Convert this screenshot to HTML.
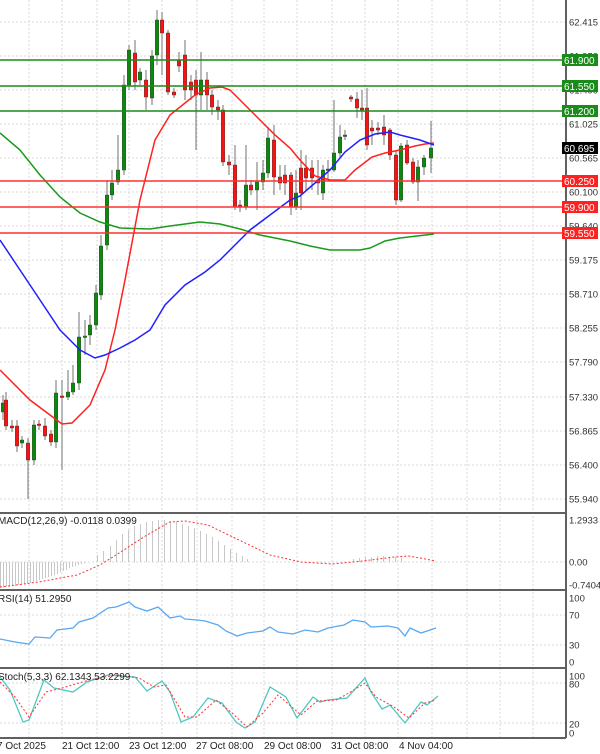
<!DOCTYPE html>
<html><head><meta charset="utf-8"><style>
html,body{margin:0;padding:0;background:#fff}
svg{display:block;font-family:"Liberation Sans",sans-serif}
</style></head><body>
<svg id="s" width="600" height="754" viewBox="0 0 600 754" xmlns="http://www.w3.org/2000/svg">
<rect width="600" height="754" fill="#fff"/>
<g id="grid" stroke="#d8d8d8" stroke-width="1" stroke-dasharray="2,2"></g>
<g id="cand"></g>
<g fill="none" stroke-width="1.5">
<polyline stroke="#1a9a1a" points="0,133 20,150 40,175 60,197 80,213 100,222 120,228 150,229 170,226 200,222 220,224 240,229 260,235 290,241 310,246 330,250 360,250 370,248 385,241 400,238 434,234"/>
<polyline stroke="#ff2020" points="0,370 30,400 50,415 62,424 72,423 90,405 105,370 115,330 125,280 140,200 155,140 170,115 195,95 210,88 222,87 230,90 245,105 260,120 275,135 290,148 300,160 315,176 330,180 345,180 355,170 372,157 385,153 400,150 415,146 425,144 434,143"/>
<polyline stroke="#2020ff" points="0,240 20,270 40,300 60,330 80,350 95,358 105,355 120,348 135,340 150,330 165,305 185,285 205,272 220,260 235,245 250,230 270,215 290,200 300,196 315,183 330,170 345,152 360,140 375,134 390,132 400,135 420,140 434,145"/>
</g>
<g stroke-width="1.5">
<line x1="0" y1="60" x2="565" y2="60" stroke="#1a8a1a"/>
<line x1="0" y1="86" x2="565" y2="86" stroke="#1a8a1a"/>
<line x1="0" y1="111" x2="565" y2="111" stroke="#1a8a1a"/>
<line x1="0" y1="181" x2="565" y2="181" stroke="#ff3030"/>
<line x1="0" y1="207" x2="565" y2="207" stroke="#ff3030"/>
<line x1="0" y1="233" x2="565" y2="233" stroke="#ff3030"/>
</g>
<g id="macd" stroke="#c8c8c8" stroke-width="1"></g>
<polyline fill="none" stroke="#ff3030" stroke-width="1" stroke-dasharray="2,2" points="0,587 39,582 77,575 100,565 116,555 147,535 170,522 185,521 208,525 239,540 270,555 301,562 332,564 363,561 394,557 409,556 436,561"/>
<polyline fill="none" stroke="#5aa8f0" stroke-width="1.3" points="0,639 15,642 29,644 35,637 50,638 57,630 73,628 79,622 93,618 108,608 116,607 129,602 135,607 147,611 158,607 170,618 180,616 185,619 197,620 205,621 218,625 226,631 237,636 247,633 263,631 270,627 278,632 293,634 305,630 318,632 328,628 344,625 353,620 365,622 371,627 388,626 398,628 405,636 410,628 421,633 436,628"/>
<polyline fill="none" stroke="#50c8c0" stroke-width="1.3" points="0,677 10,690 23,722 29,720 44,680 54,688 73,692 87,682 108,675 135,677 147,691 162,681 170,692 181,722 193,717 208,698 222,703 236,722 245,728 255,722 270,687 286,697 297,718 313,697 320,702 328,700 347,698 365,678 371,692 382,709 390,705 405,723 421,702 427,705 438,696"/>
<polyline fill="none" stroke="#ff3030" stroke-width="1" stroke-dasharray="2,2" points="0,682 15,697 29,717 46,692 62,688 89,680 116,675 139,678 154,687 166,685 185,717 197,717 216,700 232,713 247,727 263,713 278,695 301,715 317,701 336,700 349,693 365,683 376,697 394,707 409,718 425,703 436,700"/>
<g stroke="#606060" stroke-width="2" fill="none">
<line x1="0" y1="513" x2="566" y2="513"/>
<line x1="0" y1="590" x2="566" y2="590"/>
<line x1="0" y1="668" x2="566" y2="668"/>
<line x1="0" y1="738" x2="566" y2="738"/>
<line x1="566" y1="0" x2="566" y2="738"/>
</g>
<g id="lab" font-size="9.5" fill="#333"></g>
<g font-size="10" fill="#fff">
<rect x="562" y="54" width="36" height="12" fill="#1a8a1a"/><text x="564" y="64">61.900</text>
<rect x="562" y="80" width="36" height="12" fill="#1a8a1a"/><text x="564" y="90">61.550</text>
<rect x="562" y="105" width="36" height="12" fill="#1a8a1a"/><text x="564" y="115">61.200</text>
<rect x="562" y="142" width="36" height="12" fill="#000"/><text x="564" y="152">60.695</text>
<rect x="562" y="175" width="36" height="12" fill="#ff2020"/><text x="564" y="185">60.250</text>
<rect x="562" y="201" width="36" height="12" fill="#ff2020"/><text x="564" y="211">59.900</text>
<rect x="562" y="227" width="36" height="12" fill="#ff2020"/><text x="564" y="237">59.550</text>
</g>
<g font-size="10" fill="#222">
<text x="-2" y="524">MACD(12,26,9) -0.0118 0.0399</text>
<text x="-2" y="602">RSI(14) 51.2950</text>
<text x="-2" y="680">Stoch(5,3,3) 62.1343 53.2299</text>
<text x="-3" y="749">7 Oct 2025</text>
<text x="62" y="749">21 Oct 12:00</text>
<text x="129" y="749">23 Oct 12:00</text>
<text x="196" y="749">27 Oct 08:00</text>
<text x="264" y="749">29 Oct 08:00</text>
<text x="331" y="749">31 Oct 08:00</text>
<text x="399" y="749">4 Nov 04:00</text>
</g>
</svg>
<script>
var NS="http://www.w3.org/2000/svg";
function el(p,t,a){var e=document.createElementNS(NS,t);for(var k in a)e.setAttribute(k,a[k]);p.appendChild(e);return e;}
var g=document.getElementById('grid');
var gx=[29,62,97,129,162,197,232,264,297,332,365,398,432,467,500,533];
var ys=[[22,'62.415'],[56,'61.950'],[90,'61.490'],[124,'61.025'],[158,'60.565'],[192,'60.100'],[226,'59.640'],[260,'59.175'],[294,'58.710'],[328,'58.255'],[362,'57.790'],[397,'57.330'],[431,'56.865'],[465,'56.400'],[499,'55.940']];
var gy=[22,56,90,124,158,192,226,260,294,328,362,397,431,465,499,562,615,645,683,723];
gx.forEach(function(x){el(g,'line',{x1:x,y1:0,x2:x,y2:738});});
gy.forEach(function(y){el(g,'line',{x1:0,y1:y,x2:565,y2:y});});
var lab=document.getElementById('lab');
ys.forEach(function(a){el(lab,'text',{x:569,y:a[0]+3.5}).textContent=a[1];});
[[520,'1.2933'],[562,'0.00'],[585,'-0.7404'],[598,'100'],[615,'70'],[645,'30'],[662,'0'],[676,'100'],[684,'80'],[724,'20'],[733,'0']].forEach(function(a){el(lab,'text',{x:569,y:a[0]+3.5}).textContent=a[1];});
var C=[[3,412,403,395,420],[6,400,426,392,430],[12,426,428,420,432],[17,426,446,420,452],[22,443,440,436,448],[28,443,460,438,499],[34,460,425,420,465],[39,424,425,420,430],[45,426,436,418,440],[51,434,442,430,446],[56,442,393,380,448],[62,396,397,380,470],[68,397,392,370,400],[73,392,383,365,395],[79,383,337,312,390],[85,337,336,320,355],[90,335,325,315,345],[96,325,293,285,330],[101,295,246,235,300],[107,245,195,180,250],[112,195,183,170,200],[118,182,170,135,185],[124,170,85,75,175],[129,85,50,45,90],[135,53,82,40,90],[140,80,72,68,85],[146,80,97,70,110],[152,98,56,50,105],[157,55,20,10,65],[162,20,33,12,75],[168,33,92,30,95],[174,92,95,88,98],[179,60,66,52,72],[185,55,90,40,100],[191,82,90,75,100],[196,80,95,70,150],[201,95,80,52,110],[207,80,95,72,110],[212,95,107,90,115],[218,107,110,100,120],[223,110,162,105,166],[229,162,165,155,175],[235,165,207,145,210],[240,205,207,200,212],[246,207,185,145,210],[251,185,190,180,195],[257,190,182,162,210],[263,182,173,160,190],[268,173,138,127,178],[274,140,177,125,195],[280,177,183,165,190],[285,175,183,165,195],[291,175,207,172,215],[296,207,193,170,210],[301,168,193,150,210],[306,168,178,155,190],[312,168,178,160,190],[318,180,183,160,195],[323,193,170,165,200],[328,170,169,160,180],[334,170,153,100,172],[340,153,137,125,158],[345,136,135,130,140],[351,97,99,95,102],[357,99,108,92,118],[362,108,110,90,120],[367,108,145,88,150],[372,128,131,120,145],[378,128,130,122,135],[384,127,135,115,145],[390,130,155,128,160],[396,155,200,150,205],[401,200,146,143,202],[407,145,163,140,165],[413,162,182,158,184],[418,182,167,160,201],[424,167,158,155,175],[431,158,148,121,173]];
var cg=document.getElementById('cand');
C.forEach(function(c){var up=c[2]<c[1];el(cg,'line',{x1:c[0],y1:c[3],x2:c[0],y2:c[4],stroke:'#707070','stroke-width':1});
var t=Math.min(c[1],c[2]),h=Math.max(1.5,Math.abs(c[1]-c[2]));
el(cg,'rect',{x:c[0]-1.8,y:t,width:3.6,height:h,fill:up?'#0a8a0a':'#ff1010',stroke:'#333','stroke-width':0.4});});
var m=document.getElementById('macd');
var H=[[0,588],[3,588],[6,587],[9,587],[12,586],[15,586],[18,585],[21,585],[24,584],[27,584],[30,583],[33,582],[36,581],[39,580],[42,579],[45,578],[48,577],[51,576],[54,575],[57,574],[60,572],[63,571],[66,570],[69,568],[72,567],[75,566],[78,565],[81,564],[84,563],[97,555],[103,551],[110,546],[116,540],[122,534],[128,530],[134,526],[140,524],[146,522],[152,521],[158,520],[164,520],[170,521],[176,522],[182,524],[188,526],[194,528],[200,531],[206,534],[212,537],[218,541],[224,545],[230,549],[236,553],[242,556],[247,559],[353,559],[359,558],[365,557],[371,557],[377,556],[383,556],[389,557],[395,557],[401,558]];
H.forEach(function(h){el(m,'line',{x1:h[0]+0.5,y1:562,x2:h[0]+0.5,y2:h[1]});});
</script>
</body></html>
